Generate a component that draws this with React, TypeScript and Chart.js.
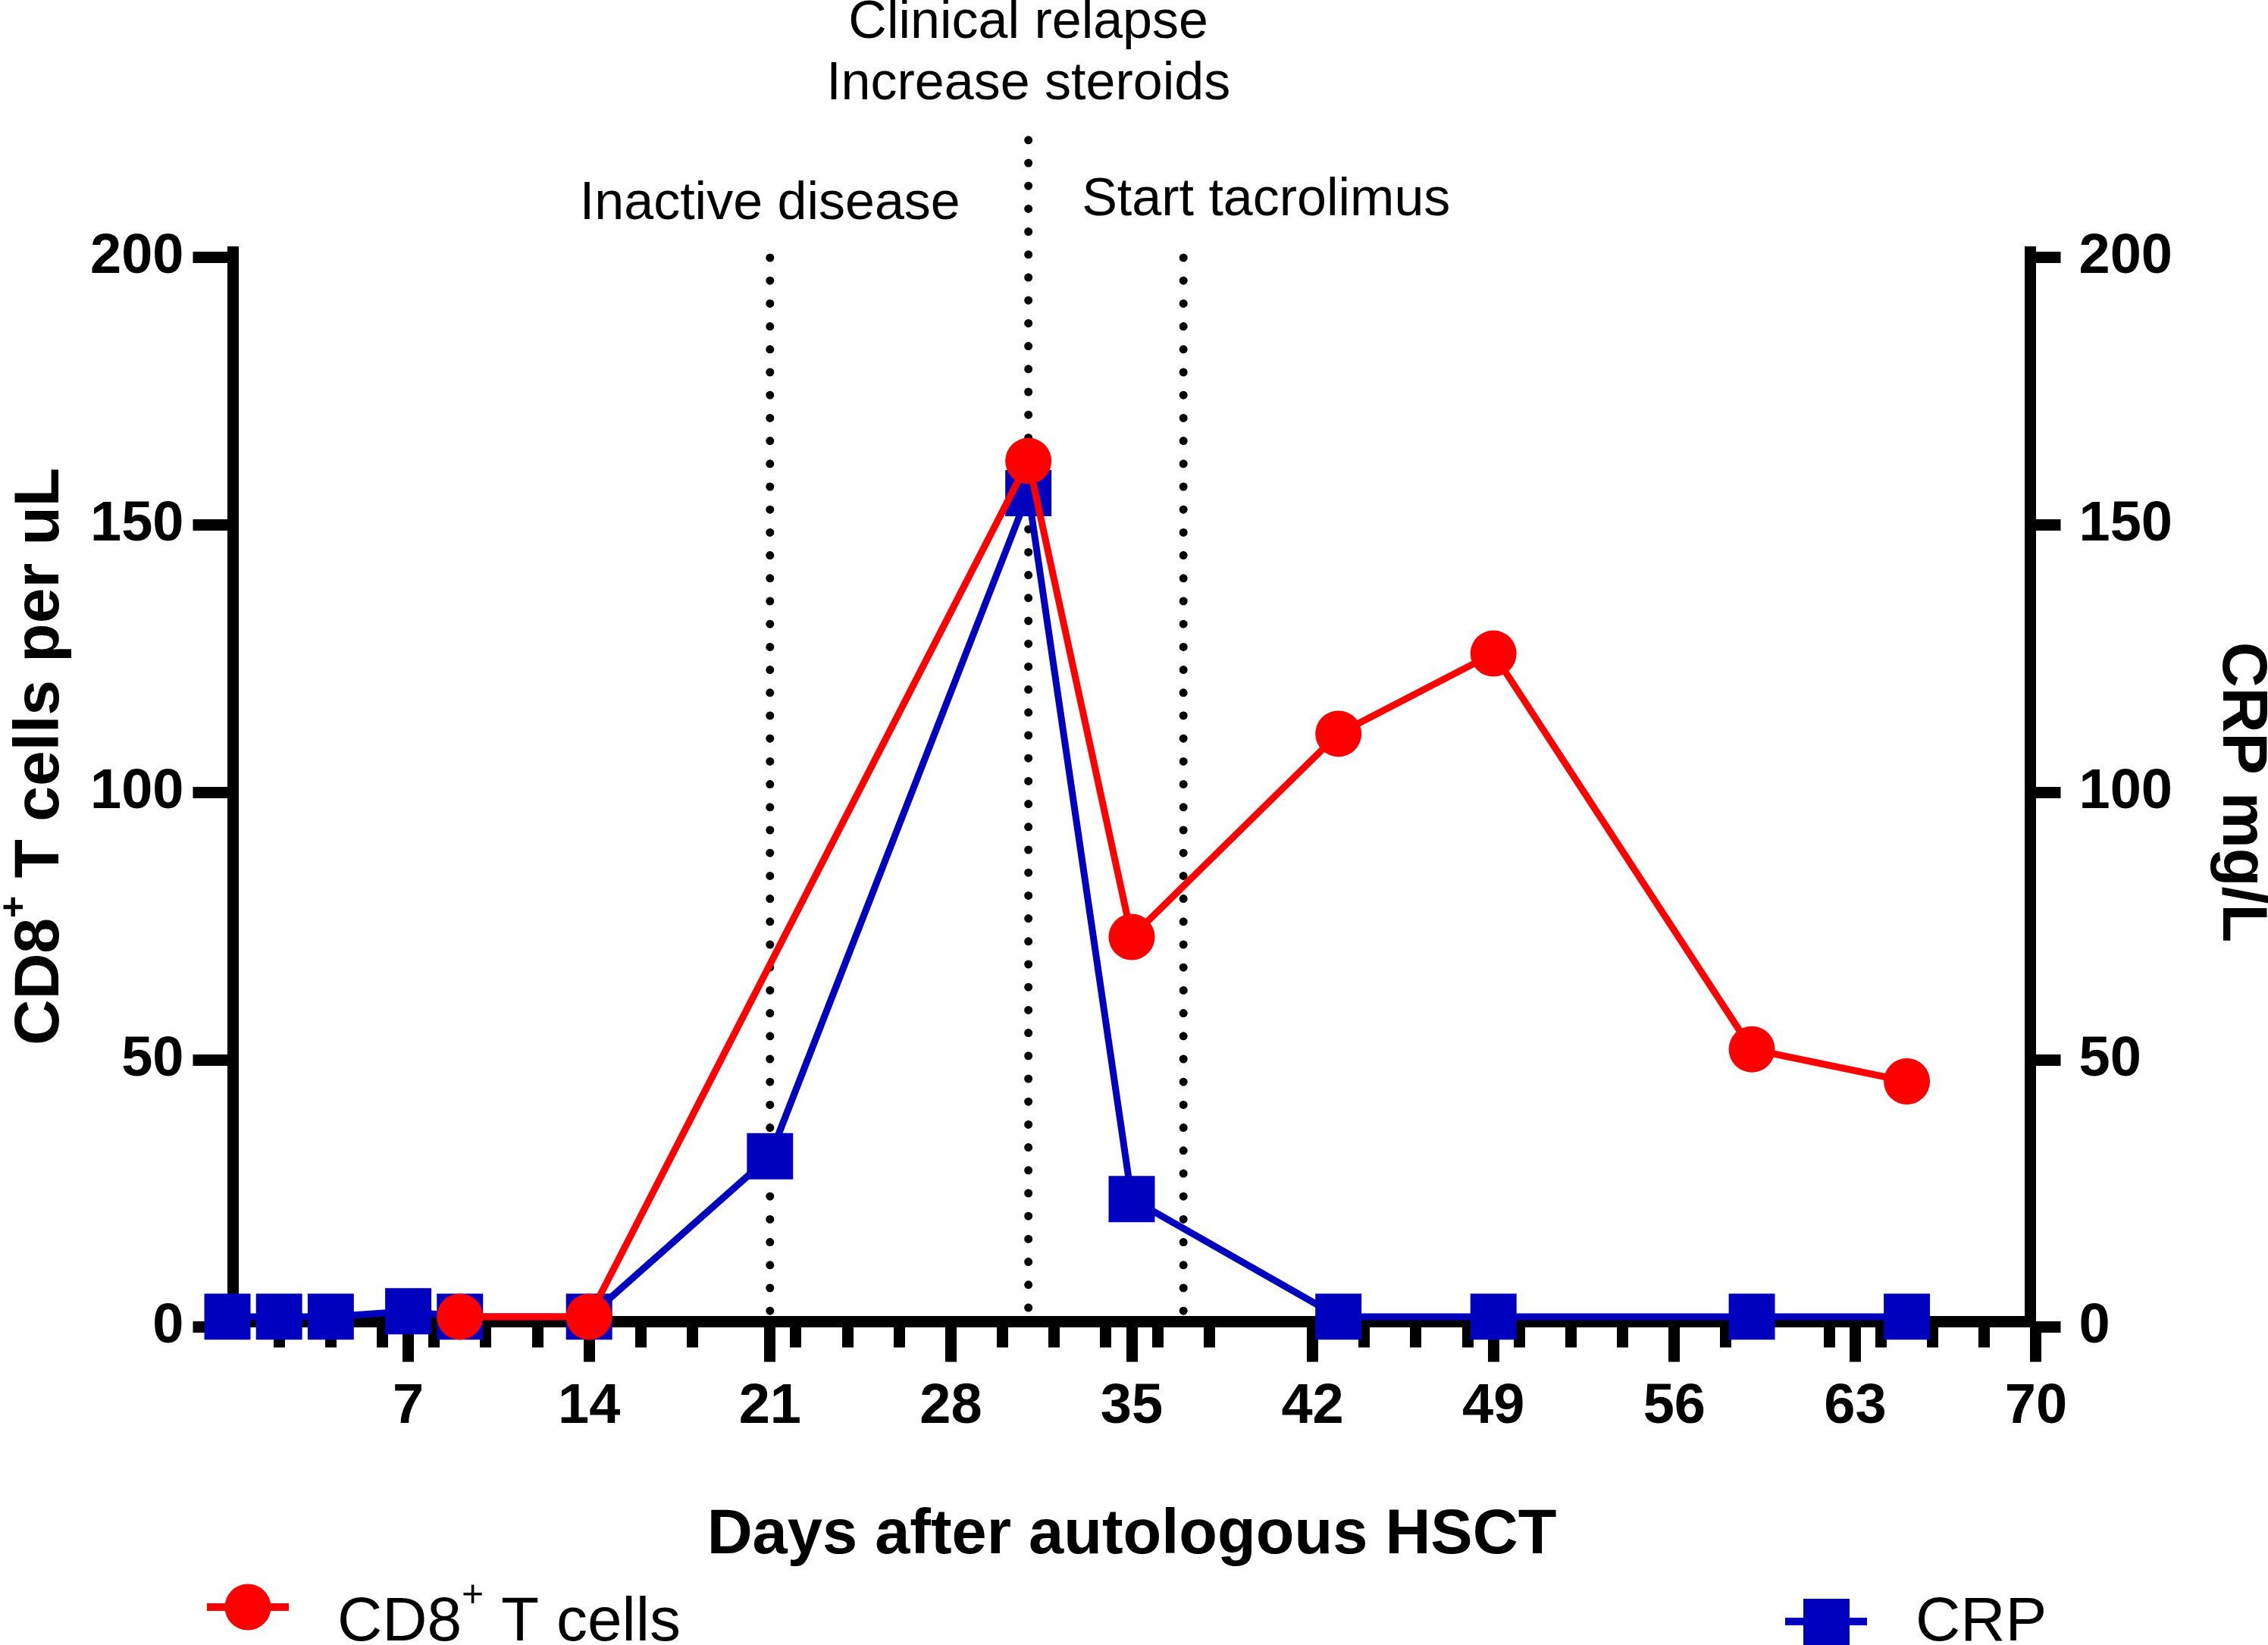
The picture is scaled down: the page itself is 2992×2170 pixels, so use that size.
import { useEffect, useRef } from "react";
import { Chart, registerables } from "chart.js";

Chart.register(...registerables);

// CD8+ T cells per uL (left axis)
const cd8Days = [9, 14, 31, 35, 43, 49, 59, 65];
const cd8Cells = [2, 2, 162, 73, 111, 126, 52, 46];

// CRP mg/L (right axis)
const crpDays = [0, 2, 4, 7, 9, 14, 21, 31, 35, 43, 49, 59, 65];
const crpValues = [2, 2, 2, 3, 2, 2, 32, 156, 24, 2, 2, 2, 2];

// clinical events (dotted lines)
const eventDays = [21, 31, 37];
const eventTops = [200, 222, 200];

// axis ticks
const xMajorTicks = [7, 14, 21, 28, 35, 42, 49, 56, 63, 70];
const xMinorTicks = [2, 4, 6, 8, 10, 12, 16, 18, 22, 24, 26, 30, 32, 34, 36, 38, 44, 46, 48, 50, 52, 54, 58, 62, 64, 66, 68];
const yTicks = [0, 50, 100, 150, 200];

const FONT = '"Liberation Sans", Arial, Helvetica, sans-serif';
const RED = "#ff0000";
const BLUE = "#0000bf";

type Run = { text: string; font: string; dy?: number };

// draws text pieces one after another (for the superscript "+")
function drawRuns(ctx: CanvasRenderingContext2D, runs: Run[], x: number, y: number, align: "left" | "center") {
  let total = 0;
  for (const r of runs) {
    ctx.font = r.font;
    total += ctx.measureText(r.text).width;
  }
  let cx = align === "center" ? x - total / 2 : x;
  ctx.textAlign = "left";
  for (const r of runs) {
    ctx.font = r.font;
    ctx.fillText(r.text, cx, y + (r.dy || 0));
    cx += ctx.measureText(r.text).width;
  }
}

const decorations = {
  id: "decorations",
  afterDraw(chart: Chart) {
    const { ctx, chartArea } = chart;
    const x = chart.scales.x;
    ctx.save();
    ctx.fillStyle = "#000";
    ctx.textBaseline = "alphabetic";

    // event annotations
    ctx.textAlign = "center";
    ctx.font = `70px ${FONT}`;
    ctx.fillText("Inactive disease", x.getPixelForValue(eventDays[0]), 289);
    ctx.fillText("Clinical relapse", x.getPixelForValue(eventDays[1]), 50);
    ctx.fillText("Increase steroids", x.getPixelForValue(eventDays[1]), 131);
    ctx.fillText("Start tacrolimus", x.getPixelForValue(40.2), 284);

    // x axis title
    ctx.font = `bold 83px ${FONT}`;
    ctx.fillText("Days after autologous HSCT", x.getPixelForValue(35), 2049);

    const midY = (chartArea.top + chartArea.bottom) / 2;

    // right axis title
    ctx.save();
    ctx.translate(2933, midY + 7);
    ctx.rotate(Math.PI / 2);
    ctx.font = `bold 83px ${FONT}`;
    ctx.textAlign = "center";
    ctx.fillText("CRP mg/L", 0, 0);
    ctx.restore();

    // left axis title
    ctx.save();
    ctx.translate(77, 998);
    ctx.rotate(-Math.PI / 2);
    drawRuns(
      ctx,
      [
        { text: "CD8", font: `bold 84px ${FONT}` },
        { text: "+", font: `bold 50px ${FONT}`, dy: -43 },
        { text: " T cells per uL", font: `bold 84px ${FONT}` },
      ],
      0,
      0,
      "center"
    );
    ctx.restore();

    // legend: CD8+ T cells
    ctx.lineWidth = 10;
    ctx.strokeStyle = RED;
    ctx.fillStyle = RED;
    ctx.beginPath();
    ctx.moveTo(273, 2120);
    ctx.lineTo(381, 2120);
    ctx.stroke();
    ctx.beginPath();
    ctx.arc(327, 2120, 30.5, 0, Math.PI * 2);
    ctx.fill();

    // legend: CRP
    ctx.strokeStyle = BLUE;
    ctx.fillStyle = BLUE;
    ctx.beginPath();
    ctx.moveTo(2355, 2139);
    ctx.lineTo(2463, 2139);
    ctx.stroke();
    ctx.fillRect(2379, 2109, 61, 61);

    ctx.fillStyle = "#000";
    drawRuns(
      ctx,
      [
        { text: "CD8", font: `82px ${FONT}` },
        { text: "+", font: `50px ${FONT}`, dy: -45 },
        { text: " T cells", font: `82px ${FONT}` },
      ],
      445,
      2164,
      "left"
    );
    ctx.font = `82px ${FONT}`;
    ctx.textAlign = "left";
    ctx.fillText("CRP", 2527, 2164);

    ctx.restore();
  },
};

export default function App() {
  const chartRef = useRef<HTMLCanvasElement>(null);
  const chartInstance = useRef<Chart | null>(null);

  useEffect(() => {
    if (!chartRef.current) return;
    if (chartInstance.current) {
      chartInstance.current.destroy();
    }
    const ctx = chartRef.current.getContext("2d");
    if (!ctx) return;

    const tickFont = { family: FONT, size: 74, weight: "bold" as const };

    chartInstance.current = new Chart(ctx, {
      type: "line",
      data: {
        datasets: [
          {
            label: "CD8+ T cells",
            data: cd8Days.map((d, i) => ({ x: d, y: cd8Cells[i] })),
            borderColor: RED,
            backgroundColor: RED,
            borderWidth: 9,
            tension: 0,
            pointStyle: "circle",
            pointRadius: 30.5,
            pointBorderWidth: 0,
            pointBackgroundColor: RED,
            yAxisID: "y",
            clip: false,
          },
          {
            label: "CRP",
            data: crpDays.map((d, i) => ({ x: d, y: crpValues[i] })),
            borderColor: BLUE,
            backgroundColor: BLUE,
            borderWidth: 9,
            tension: 0,
            pointStyle: "rect",
            pointRadius: 43.1,
            pointBorderWidth: 0,
            pointBackgroundColor: BLUE,
            yAxisID: "y1",
            clip: false,
          },
          ...eventDays.map((d, i) => ({
            label: "",
            data: [
              { x: d, y: eventTops[i] },
              { x: d, y: 0 },
            ],
            borderColor: "#000",
            borderWidth: 11,
            borderDash: [0, 30.2],
            borderCapStyle: "round" as const,
            pointRadius: 0,
            yAxisID: "y",
            clip: false,
          })),
        ],
      },
      options: {
        responsive: true,
        maintainAspectRatio: false,
        animation: false,
        events: [],
        layout: { padding: { top: 332.5, left: 0, right: 0, bottom: 0 } },
        plugins: {
          legend: { display: false },
          tooltip: { enabled: false },
        },
        scales: {
          x: {
            type: "linear",
            position: "bottom",
            min: 0.22,
            max: 69.78,
            afterBuildTicks: (axis) => {
              axis.ticks = xMajorTicks.map((v) => ({ value: v }));
            },
            afterFit: (axis) => {
              axis.height = 426.5;
            },
            grid: {
              drawOnChartArea: false,
              drawTicks: true,
              tickLength: 53,
              tickWidth: 15,
              tickColor: "#000",
              lineWidth: 15,
            },
            border: { display: true, width: 15, color: "#000" },
            ticks: {
              autoSkip: false,
              maxRotation: 0,
              padding: 16,
              color: "#000",
              font: tickFont,
              callback: (v) => String(v),
            },
          },
          xMinor: {
            type: "linear",
            axis: "x",
            position: { y: 0 },
            min: 0.22,
            max: 69.78,
            afterBuildTicks: (axis) => {
              axis.ticks = xMinorTicks.map((v) => ({ value: v }));
            },
            grid: {
              drawOnChartArea: false,
              drawTicks: true,
              tickLength: 26.5,
              tickWidth: 15,
              tickColor: "#000",
            },
            border: { display: false },
            ticks: { display: false, autoSkip: false },
          },
          y: {
            type: "linear",
            position: "left",
            min: 1.063,
            max: 201.063,
            afterBuildTicks: (axis) => {
              axis.ticks = yTicks.map((v) => ({ value: v }));
            },
            afterFit: (axis) => {
              axis.width = 307.5;
            },
            grid: {
              drawOnChartArea: false,
              drawTicks: true,
              tickLength: 53,
              tickWidth: 15,
              tickColor: "#000",
              lineWidth: 15,
            },
            border: { display: true, width: 15, color: "#000" },
            ticks: {
              autoSkip: false,
              padding: 12,
              color: "#000",
              font: tickFont,
              callback: (v) => String(v),
            },
          },
          y1: {
            type: "linear",
            position: "right",
            min: 1.063,
            max: 201.063,
            afterBuildTicks: (axis) => {
              axis.ticks = yTicks.map((v) => ({ value: v }));
            },
            afterFit: (axis) => {
              axis.width = 313.5;
            },
            grid: {
              drawOnChartArea: false,
              drawTicks: true,
              tickLength: 40,
              tickWidth: 15,
              tickColor: "#000",
              lineWidth: 15,
            },
            border: { display: true, width: 15, color: "#000" },
            ticks: {
              autoSkip: false,
              padding: 24,
              color: "#000",
              font: tickFont,
              callback: (v) => String(v),
            },
          },
        },
      },
      plugins: [decorations],
    });

    return () => {
      if (chartInstance.current) {
        chartInstance.current.destroy();
        chartInstance.current = null;
      }
    };
  }, []);

  return (
    <div style={{ position: "fixed", left: 0, top: 0, width: 2992, height: 2170, background: "#fff" }}>
      <canvas ref={chartRef}></canvas>
    </div>
  );
}
